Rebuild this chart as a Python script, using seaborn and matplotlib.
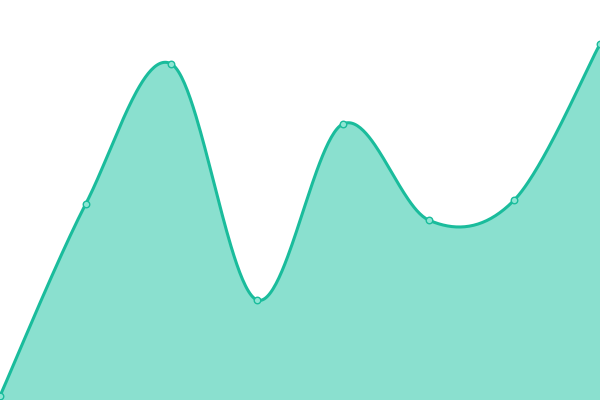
import numpy as np
import pandas as pd
import matplotlib
matplotlib.use("Agg")
import matplotlib.pyplot as plt
import seaborn as sns

# data (y axis 0..100)
xs = [0, 1, 2, 3, 4, 5, 6, 7]
values = [1, 49, 84, 25, 69, 45, 50, 89]

LINE = "#1abc9c"
FILL = "#8ae0cf"


def cardinal(x, y, n=60):
    # cardinal spline (tension 0), end points doubled like d3
    p = np.column_stack([x, y]).astype(float)
    p = np.vstack([p[0], p, p[-1]])
    out = []
    t = np.linspace(0, 1, n)[:, None]
    for i in range(1, len(p) - 2):
        p0, p1, p2, p3 = p[i - 1], p[i], p[i + 1], p[i + 2]
        c1 = p1 + (p2 - p0) / 6
        c2 = p2 - (p3 - p1) / 6
        seg = ((1 - t) ** 3) * p1 + 3 * ((1 - t) ** 2) * t * c1 + 3 * (1 - t) * t ** 2 * c2 + t ** 3 * p2
        out.append(seg if i == 1 else seg[1:])
    out = np.vstack(out)
    return out[:, 0], out[:, 1]


sx, sy = cardinal(xs, values)
curve = pd.DataFrame({"x": sx, "y": sy})
pts = pd.DataFrame({"x": xs, "y": values})

sns.set_style("white")
fig = plt.figure(figsize=(6, 4), dpi=100)
ax = fig.add_axes([0, 0, 1, 1])

ax.fill_between(sx, sy, 0, color=FILL, linewidth=0)
sns.lineplot(data=curve, x="x", y="y", ax=ax, color=LINE, linewidth=2.2, sort=False)
sns.scatterplot(data=pts, x="x", y="y", ax=ax, s=22, color="#8ee6d4",
                edgecolor=LINE, linewidth=1, zorder=5)

ax.set_xlim(0, 7)
ax.set_ylim(0, 100)
ax.axis("off")
fig.savefig("out.png", dpi=100)
